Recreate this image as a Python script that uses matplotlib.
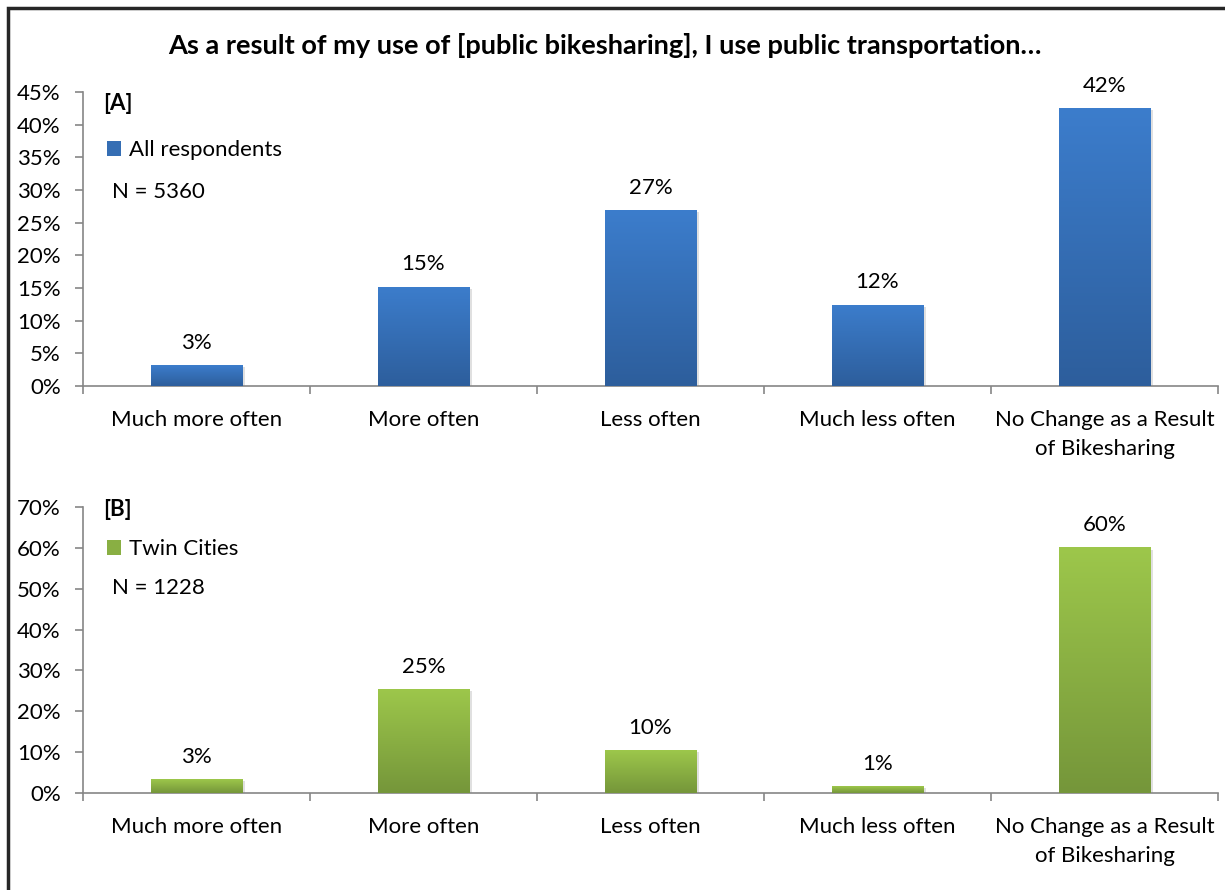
import matplotlib
matplotlib.use("Agg")
import matplotlib.pyplot as plt
import numpy as np
from matplotlib.patches import Patch, Rectangle
from matplotlib.colors import LinearSegmentedColormap
import matplotlib.patheffects as pe

plt.rcParams['font.family'] = ['Lato', 'DejaVu Sans']

title = "As a result of my use of [public bikesharing], I use public transportation…"
categories = ["Much more often", "More often", "Less often", "Much less often",
              "No Change as a Result\nof Bikesharing"]
values_a = [3.2, 15.2, 26.9, 12.4, 42.5]
labels_a = ["3%", "15%", "27%", "12%", "42%"]
values_b = [3.4, 25.4, 10.5, 1.7, 60.1]
labels_b = ["3%", "25%", "10%", "1%", "60%"]
series_a = "All respondents"
series_b = "Twin Cities"
n_a = "N = 5360"
n_b = "N = 1228"
ticks_a = [0, 5, 10, 15, 20, 25, 30, 35, 40, 45]
ticks_b = [0, 10, 20, 30, 40, 50, 60, 70]

blue_top, blue_bot = "#3C7DCC", "#2D5E9C"
green_top, green_bot = "#9DC74B", "#75963A"
spine_col = "#868686"
FS = 16

W, H = 1225, 890
fig = plt.figure(figsize=(W / 100, H / 100), dpi=100)

fig.patches.append(Rectangle((8 / W, -0.05), 1.2, (H - 8) / H + 0.05,
                             transform=fig.transFigure, fill=False,
                             edgecolor="#262626", linewidth=2.5, zorder=0))

fig.text(605 / W, 1 - 45 / H, title, ha="center", va="center",
         fontsize=19.5, fontweight="bold", color="black")


def panel(top_px, bot_px, values, labels, ticks, top, bot, tag, series, ntext,
          tag_y, leg_y, n_y):
    rect = [83 / W, 1 - bot_px / H, (1218 - 83) / W, (bot_px - top_px) / H]
    ax = fig.add_axes(rect)
    x = np.arange(len(categories))
    bars = ax.bar(x, values, width=0.405, color=bot, zorder=2)
    cmap = LinearSegmentedColormap.from_list("g", [bot, top])
    grad = np.linspace(0, 1, 256).reshape(-1, 1)
    for b in bars:
        b.set_path_effects([pe.SimplePatchShadow(offset=(1.5, -1.5), alpha=0.12,
                                                 shadow_rgbFace="#000000"),
                            pe.Normal()])
        im = ax.imshow(grad, cmap=cmap, aspect="auto", origin="lower",
                       extent=(b.get_x(), b.get_x() + b.get_width(), 0, b.get_height()),
                       zorder=3)
        im.set_clip_path(b)
    for xi, v, lab in zip(x, values, labels):
        ax.annotate(lab, (xi, v), xytext=(0, 9), textcoords="offset points",
                    ha="center", va="bottom", fontsize=FS)
    ax.set_xlim(-0.5, len(categories) - 0.5)
    ax.set_ylim(ticks[0], ticks[-1])
    ax.set_yticks(ticks)
    ax.set_yticklabels([f"{t}%" for t in ticks], fontsize=FS)
    ax.set_xticks(x)
    ax.set_xticklabels(categories, fontsize=FS, linespacing=1.6)
    ax.tick_params(axis="x", length=0, pad=17)
    ax.set_xticks(np.arange(-0.5, len(categories) + 0.5, 1), minor=True)
    ax.tick_params(axis="x", which="minor", length=6, color=spine_col, width=1.2)
    ax.tick_params(axis="y", length=6, color=spine_col, width=1.2, pad=10)
    for s in ["top", "right"]:
        ax.spines[s].set_visible(False)
    for s in ["left", "bottom"]:
        ax.spines[s].set_color(spine_col)
        ax.spines[s].set_linewidth(1.2)
    hpx = bot_px - top_px
    ax.text(20 / 1135, 1 - (tag_y - top_px) / hpx, tag, transform=ax.transAxes,
            fontsize=FS, fontweight="bold", va="center", ha="left")
    handle = Patch(facecolor=(np.array(matplotlib.colors.to_rgb(top)) +
                              np.array(matplotlib.colors.to_rgb(bot))) / 2)
    ax.legend([handle], [series], loc="center left", frameon=False,
              bbox_to_anchor=(24 / 1135, 1 - (leg_y - top_px) / hpx), fontsize=FS,
              handlelength=0.65, handleheight=0.65, handletextpad=0.35,
              borderaxespad=0, borderpad=0)
    ax.text(29 / 1135, 1 - (n_y - top_px) / hpx, ntext, transform=ax.transAxes,
            fontsize=FS, va="center", ha="left")
    return ax


panel(92, 386, values_a, labels_a, ticks_a, blue_top, blue_bot, "[A]",
      series_a, n_a, 104, 150, 192)
panel(507, 793, values_b, labels_b, ticks_b, green_top, green_bot, "[B]",
      series_b, n_b, 510, 549, 588)

fig.savefig("out.png", dpi=100, facecolor="white")
